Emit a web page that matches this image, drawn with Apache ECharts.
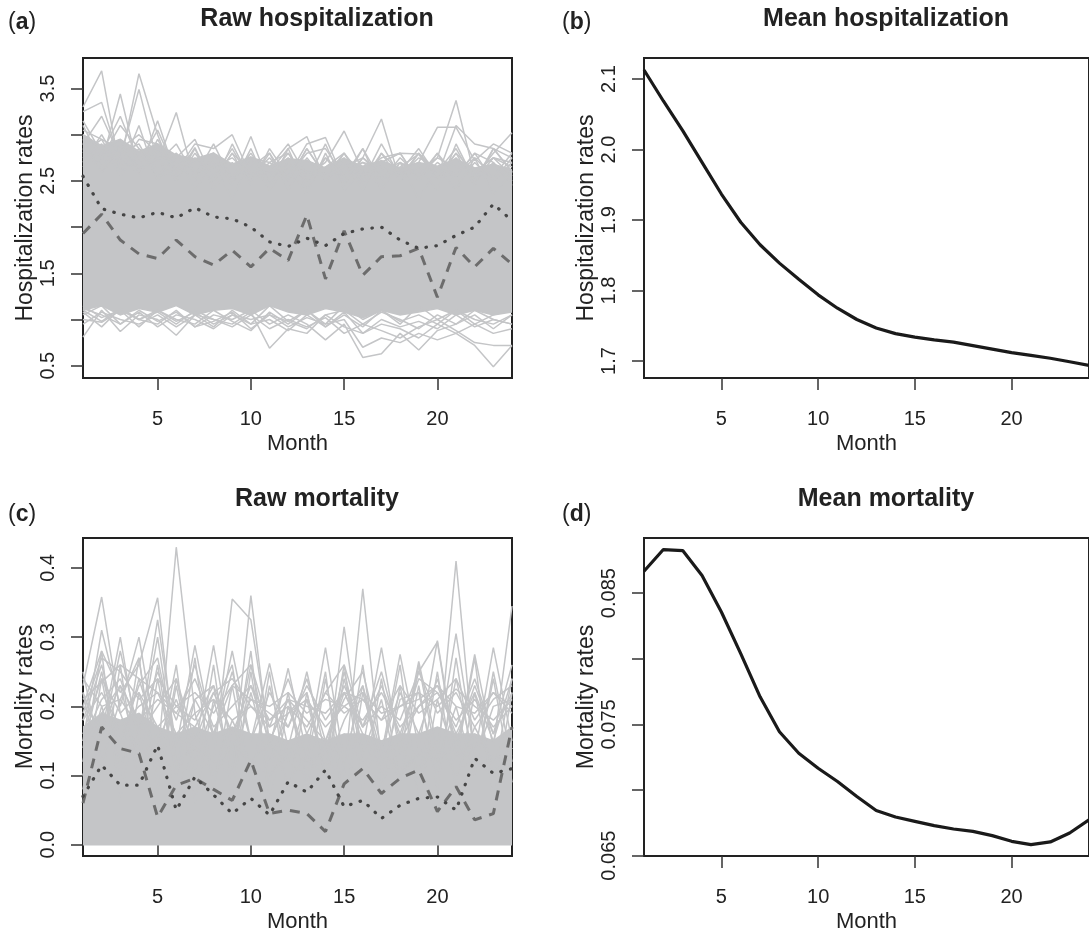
<!DOCTYPE html>
<html>
<head>
<meta charset="utf-8">
<script src="https://cdn.jsdelivr.net/npm/echarts@6/dist/echarts.min.js"></script>
<style>
html, body { margin: 0; padding: 0; background: #fff; }
#chart { width: 1089px; height: 934px; }
</style>
</head>
<body>
<div id="chart"></div>
<script>
// months on the x axis
const months = [1, 2, 3, 4, 5, 6, 7, 8, 9, 10, 11, 12, 13, 14, 15, 16, 17, 18, 19, 20, 21, 22, 23, 24];
const monthTicks = [5, 10, 15, 20];

// (a) raw hospitalization: dense core of the grey lines
const hospLow = [1.10, 1.15, 1.05, 1.12, 1.08, 1.15, 1.05, 1.10, 1.12, 1.05, 1.15, 1.08, 1.05, 1.12, 1.08, 1.02, 1.10, 1.05, 1.08, 1.12, 1.05, 1.10, 1.05, 1.08];
const hospHigh = [3.00, 2.88, 2.95, 2.82, 2.90, 2.78, 2.74, 2.80, 2.68, 2.76, 2.66, 2.74, 2.72, 2.64, 2.74, 2.66, 2.72, 2.64, 2.70, 2.66, 2.74, 2.64, 2.68, 2.62];
// (a) single grey lines sticking out above the core
const hospUpper = [
  [3.30, 3.69, 2.60, 3.10, 2.50, 2.80, 2.40, 2.70, 2.30, 2.75, 2.40, 2.65, 2.35, 2.80, 2.40, 2.60, 2.45, 2.70, 2.30, 2.65, 2.40, 2.75, 2.35, 2.60],
  [3.25, 3.35, 2.70, 3.66, 3.00, 2.50, 2.85, 2.40, 2.70, 2.50, 2.80, 2.40, 2.75, 2.50, 2.70, 2.40, 2.80, 2.50, 2.65, 2.40, 2.90, 2.50, 2.70, 2.45],
  [3.10, 2.70, 3.44, 2.60, 3.15, 2.55, 2.86, 2.45, 2.90, 2.50, 2.60, 2.85, 2.40, 2.75, 2.50, 2.85, 2.40, 2.70, 2.55, 2.80, 2.45, 2.70, 2.50, 2.75],
  [2.90, 3.20, 2.75, 3.49, 2.70, 3.24, 2.50, 2.78, 2.45, 2.85, 2.40, 2.70, 2.50, 2.90, 2.45, 2.75, 2.55, 2.65, 2.79, 2.50, 2.80, 2.45, 2.85, 2.60],
  [3.15, 2.80, 3.20, 2.70, 3.05, 2.60, 2.90, 2.85, 3.00, 2.55, 2.75, 2.50, 2.85, 2.55, 2.80, 2.50, 2.90, 2.55, 2.80, 2.60, 2.85, 2.50, 2.75, 2.65],
  [3.00, 2.75, 3.10, 2.85, 2.70, 2.90, 2.55, 2.90, 2.50, 2.98, 2.45, 2.85, 2.98, 2.50, 2.80, 2.45, 2.70, 2.80, 2.50, 2.70, 2.55, 2.80, 2.50, 2.70],
  [2.70, 3.00, 2.65, 2.95, 2.90, 2.55, 2.75, 2.50, 2.80, 2.45, 2.85, 2.55, 2.90, 2.97, 2.50, 2.75, 3.17, 2.50, 2.80, 2.55, 2.75, 2.50, 2.85, 2.60],
  [2.95, 2.65, 2.90, 2.60, 2.85, 2.70, 2.50, 2.75, 2.55, 2.80, 2.50, 2.70, 2.55, 2.70, 3.04, 2.60, 2.75, 2.80, 2.79, 2.55, 2.80, 2.60, 2.75, 2.55],
  [2.80, 2.95, 2.60, 2.85, 2.55, 2.80, 2.60, 2.70, 2.50, 2.75, 2.55, 2.80, 2.50, 2.65, 2.75, 2.50, 2.80, 2.60, 2.70, 3.08, 3.08, 2.72, 2.90, 2.80],
  [2.65, 2.85, 2.95, 2.60, 2.75, 2.50, 2.80, 2.55, 2.85, 2.50, 2.70, 2.80, 2.50, 2.75, 2.55, 2.85, 2.50, 2.75, 2.55, 2.75, 3.37, 2.55, 2.80, 3.02],
  [2.90, 2.60, 2.85, 2.55, 2.95, 2.60, 2.70, 2.80, 2.55, 2.65, 2.80, 2.50, 2.85, 2.55, 2.60, 2.70, 2.55, 2.60, 2.85, 2.55, 3.10, 2.90, 2.85, 2.75],
  [2.75, 2.90, 2.55, 2.80, 2.65, 2.75, 2.95, 2.50, 2.80, 2.60, 2.65, 2.90, 2.55, 2.65, 2.80, 2.55, 2.70, 2.80, 2.50, 2.80, 2.55, 2.75, 2.55, 2.80],
  [2.85, 2.60, 2.80, 2.90, 2.55, 2.60, 2.70, 2.80, 2.50, 2.75, 2.70, 2.55, 2.80, 2.85, 2.55, 2.70, 2.65, 2.55, 2.75, 2.65, 2.55, 2.80, 2.70, 2.50],
  [3.05, 2.95, 2.85, 3.00, 2.80, 2.65, 2.55, 2.65, 2.75, 2.55, 2.60, 2.75, 2.60, 2.55, 2.65, 2.75, 2.60, 2.70, 2.60, 2.75, 2.65, 2.60, 2.75, 2.70]
];
// (a) single grey lines dipping below the core
const hospLower = [
  [0.81, 1.10, 0.87, 1.05, 1.00, 0.83, 1.05, 0.92, 1.10, 0.95, 1.15, 0.98, 1.10, 0.95, 1.15, 1.00, 1.10, 0.95, 1.15, 1.00, 1.10, 0.95, 1.05, 1.10],
  [1.00, 0.97, 1.10, 0.92, 1.10, 1.00, 0.95, 1.10, 0.98, 0.88, 1.08, 0.95, 1.10, 0.92, 1.05, 0.92, 1.10, 0.98, 1.05, 0.95, 1.10, 1.00, 0.95, 1.05],
  [1.10, 0.98, 1.12, 1.00, 1.08, 0.95, 1.10, 1.00, 0.95, 1.08, 0.69, 0.90, 0.85, 1.05, 1.10, 0.95, 1.08, 1.00, 0.90, 1.05, 0.95, 1.10, 1.00, 0.95],
  [1.05, 1.15, 0.95, 1.10, 0.98, 1.08, 0.92, 1.05, 1.00, 1.10, 0.95, 1.05, 0.95, 0.78, 0.95, 0.59, 0.63, 0.85, 0.67, 0.88, 0.95, 1.05, 0.90, 1.05],
  [1.15, 1.02, 1.10, 1.00, 1.10, 0.98, 1.08, 0.95, 1.05, 1.00, 1.05, 0.92, 1.02, 0.95, 1.00, 0.70, 0.80, 0.75, 0.85, 0.78, 0.85, 0.72, 0.49, 0.72],
  [0.95, 1.08, 1.00, 0.95, 1.05, 0.92, 1.05, 1.00, 0.92, 1.05, 0.90, 1.00, 0.92, 1.02, 0.85, 0.95, 0.88, 0.80, 0.92, 1.00, 0.88, 0.75, 0.72, 0.72],
  [1.08, 0.92, 1.12, 1.00, 0.95, 1.10, 0.92, 0.98, 1.08, 0.90, 1.05, 0.98, 0.90, 1.05, 0.92, 0.85, 0.95, 0.90, 0.80, 0.95, 0.85, 0.95, 0.85, 0.90],
  [1.12, 1.05, 0.95, 1.08, 0.92, 1.05, 1.00, 0.90, 1.05, 0.95, 1.00, 0.88, 1.05, 0.92, 1.08, 0.85, 1.00, 0.92, 0.98, 0.90, 1.05, 0.92, 1.00, 0.95]
];
const hospDotted = [2.55, 2.20, 2.14, 2.10, 2.16, 2.10, 2.21, 2.11, 2.09, 2.00, 1.84, 1.79, 1.88, 1.80, 1.93, 1.98, 2.00, 1.86, 1.77, 1.80, 1.91, 2.00, 2.25, 2.07];
const hospDashed = [1.93, 2.14, 1.86, 1.71, 1.66, 1.86, 1.68, 1.59, 1.75, 1.57, 1.77, 1.64, 2.13, 1.44, 1.96, 1.48, 1.68, 1.69, 1.77, 1.24, 1.78, 1.57, 1.77, 1.60];

// (b) mean hospitalization
const hospMean = [2.113, 2.069, 2.027, 1.982, 1.937, 1.897, 1.865, 1.839, 1.816, 1.794, 1.775, 1.759, 1.747, 1.739, 1.734, 1.730, 1.727, 1.722, 1.717, 1.712, 1.708, 1.704, 1.699, 1.694];

// (c) raw mortality
const mortLow = [0, 0, 0, 0, 0, 0, 0, 0, 0, 0, 0, 0, 0, 0, 0, 0, 0, 0, 0, 0, 0, 0, 0, 0];
const mortHigh = [0.17, 0.19, 0.18, 0.19, 0.17, 0.16, 0.17, 0.16, 0.17, 0.16, 0.16, 0.15, 0.16, 0.15, 0.16, 0.16, 0.15, 0.16, 0.16, 0.17, 0.16, 0.16, 0.15, 0.17];
const mortUpper = [
  [0.23, 0.358, 0.19, 0.12, 0.16, 0.08, 0.14, 0.10, 0.18, 0.12, 0.15, 0.09, 0.13, 0.10, 0.16, 0.12, 0.09, 0.14, 0.11, 0.15, 0.10, 0.17, 0.12, 0.14],
  [0.15, 0.31, 0.20, 0.30, 0.14, 0.10, 0.16, 0.12, 0.10, 0.36, 0.14, 0.12, 0.10, 0.15, 0.12, 0.10, 0.14, 0.11, 0.13, 0.15, 0.10, 0.13, 0.12, 0.14],
  [0.20, 0.28, 0.22, 0.26, 0.357, 0.12, 0.14, 0.10, 0.15, 0.12, 0.10, 0.14, 0.12, 0.10, 0.315, 0.12, 0.14, 0.10, 0.13, 0.12, 0.15, 0.11, 0.13, 0.12],
  [0.12, 0.16, 0.30, 0.14, 0.12, 0.43, 0.19, 0.10, 0.14, 0.12, 0.10, 0.13, 0.11, 0.12, 0.10, 0.37, 0.12, 0.10, 0.14, 0.12, 0.41, 0.12, 0.10, 0.14],
  [0.22, 0.15, 0.28, 0.16, 0.325, 0.14, 0.288, 0.15, 0.28, 0.15, 0.262, 0.14, 0.25, 0.13, 0.25, 0.14, 0.285, 0.13, 0.265, 0.14, 0.305, 0.13, 0.285, 0.15],
  [0.14, 0.25, 0.13, 0.24, 0.15, 0.21, 0.14, 0.288, 0.13, 0.26, 0.14, 0.255, 0.13, 0.285, 0.12, 0.23, 0.13, 0.275, 0.14, 0.295, 0.13, 0.275, 0.14, 0.345],
  [0.10, 0.20, 0.12, 0.15, 0.30, 0.12, 0.14, 0.12, 0.355, 0.325, 0.15, 0.21, 0.12, 0.14, 0.22, 0.16, 0.12, 0.15, 0.25, 0.293, 0.12, 0.16, 0.12, 0.13],
  [0.18, 0.22, 0.17, 0.20, 0.22, 0.16, 0.19, 0.21, 0.18, 0.20, 0.17, 0.19, 0.21, 0.17, 0.20, 0.18, 0.22, 0.17, 0.20, 0.22, 0.18, 0.21, 0.17, 0.20],
  [0.20, 0.17, 0.23, 0.18, 0.21, 0.19, 0.24, 0.17, 0.20, 0.23, 0.18, 0.20, 0.17, 0.22, 0.19, 0.21, 0.18, 0.23, 0.19, 0.21, 0.24, 0.18, 0.22, 0.19],
  [0.16, 0.24, 0.19, 0.22, 0.17, 0.20, 0.18, 0.23, 0.16, 0.21, 0.19, 0.17, 0.23, 0.18, 0.22, 0.17, 0.20, 0.18, 0.25, 0.19, 0.22, 0.17, 0.21, 0.23],
  [0.19, 0.27, 0.25, 0.21, 0.24, 0.20, 0.22, 0.19, 0.23, 0.21, 0.20, 0.22, 0.19, 0.21, 0.20, 0.22, 0.19, 0.20, 0.21, 0.23, 0.20, 0.19, 0.22, 0.20],
  [0.21, 0.235, 0.26, 0.24, 0.22, 0.19, 0.17, 0.22, 0.24, 0.20, 0.18, 0.21, 0.20, 0.19, 0.22, 0.21, 0.18, 0.20, 0.22, 0.20, 0.225, 0.20, 0.18, 0.21],
  [0.24, 0.20, 0.21, 0.17, 0.25, 0.18, 0.26, 0.16, 0.23, 0.26, 0.17, 0.24, 0.16, 0.22, 0.26, 0.17, 0.23, 0.16, 0.24, 0.22, 0.17, 0.24, 0.16, 0.22],
  [0.08, 0.24, 0.10, 0.27, 0.08, 0.23, 0.10, 0.26, 0.07, 0.25, 0.09, 0.22, 0.08, 0.24, 0.10, 0.26, 0.08, 0.23, 0.09, 0.25, 0.08, 0.22, 0.10, 0.24],
  [0.22, 0.09, 0.26, 0.08, 0.24, 0.10, 0.27, 0.08, 0.23, 0.09, 0.25, 0.07, 0.22, 0.10, 0.26, 0.08, 0.24, 0.09, 0.23, 0.08, 0.27, 0.10, 0.24, 0.09],
  [0.12, 0.28, 0.06, 0.22, 0.12, 0.26, 0.06, 0.21, 0.11, 0.28, 0.06, 0.20, 0.12, 0.25, 0.05, 0.22, 0.12, 0.26, 0.06, 0.21, 0.12, 0.27, 0.06, 0.22],
  [0.25, 0.12, 0.21, 0.27, 0.09, 0.24, 0.12, 0.20, 0.26, 0.09, 0.23, 0.12, 0.21, 0.10, 0.24, 0.13, 0.21, 0.09, 0.26, 0.12, 0.20, 0.10, 0.25, 0.12],
  [0.18, 0.26, 0.15, 0.23, 0.27, 0.14, 0.21, 0.16, 0.25, 0.15, 0.22, 0.17, 0.24, 0.15, 0.21, 0.25, 0.14, 0.22, 0.16, 0.24, 0.15, 0.23, 0.16, 0.26],
  [0.15, 0.21, 0.24, 0.16, 0.20, 0.24, 0.15, 0.22, 0.16, 0.23, 0.15, 0.21, 0.18, 0.15, 0.23, 0.17, 0.25, 0.15, 0.20, 0.23, 0.16, 0.22, 0.15, 0.24],
  [0.10, 0.19, 0.23, 0.12, 0.26, 0.10, 0.21, 0.23, 0.10, 0.22, 0.12, 0.19, 0.22, 0.11, 0.18, 0.23, 0.10, 0.21, 0.22, 0.10, 0.24, 0.12, 0.20, 0.21]
];
const mortDotted = [0.070, 0.115, 0.086, 0.086, 0.144, 0.050, 0.098, 0.072, 0.045, 0.067, 0.043, 0.091, 0.076, 0.108, 0.055, 0.064, 0.038, 0.057, 0.067, 0.069, 0.050, 0.125, 0.103, 0.110];
const mortDashed = [0.060, 0.170, 0.139, 0.132, 0.040, 0.086, 0.096, 0.080, 0.064, 0.122, 0.045, 0.050, 0.045, 0.019, 0.088, 0.110, 0.074, 0.096, 0.108, 0.048, 0.084, 0.036, 0.045, 0.170];

// (d) mean mortality
const mortMean = [0.08667, 0.08832, 0.08824, 0.08634, 0.08356, 0.08039, 0.0771, 0.07444, 0.0728, 0.07166, 0.07065, 0.0695, 0.06844, 0.06794, 0.06761, 0.06728, 0.06703, 0.06685, 0.06652, 0.06609, 0.06584, 0.06604, 0.06672, 0.06773];

// y tick positions and labels
const hospTicks = [0.5, 1.0, 1.5, 2.0, 2.5, 3.0, 3.5];
const hospLabels = [0.5, 1.5, 2.5, 3.5];
const hospMeanTicks = [1.7, 1.8, 1.9, 2.0, 2.1];
const mortTicks = [0.0, 0.1, 0.2, 0.3, 0.4];
const mortMeanTicks = [0.065, 0.070, 0.075, 0.080, 0.085];
const mortMeanLabels = [0.065, 0.075, 0.085];

const FONT = "'Liberation Sans', Arial, Helvetica, sans-serif";
const GREY = '#c4c5c7';
const INK = '#222';

function pairs(arr) {
  return arr.map((v, i) => [months[i], v]);
}

function plain(idx, arr, style) {
  return {
    type: 'line', xAxisIndex: idx, yAxisIndex: idx, data: pairs(arr),
    symbol: 'none', silent: true, lineStyle: style
  };
}

// solid grey core between low and high, drawn as one polygon
function band(idx, low, high) {
  return {
    type: 'custom', xAxisIndex: idx, yAxisIndex: idx, silent: true, clip: true,
    data: months.map((m, i) => [m, low[i], high[i]]),
    encode: { x: 0, y: [1, 2] },
    renderItem: function (params, api) {
      if (params.dataIndex !== 0) return null;
      const top = months.map((m, i) => api.coord([m, high[i]]));
      const bottom = months.map((m, i) => api.coord([m, low[i]])).reverse();
      return {
        type: 'polygon',
        shape: { points: top.concat(bottom) },
        style: { fill: GREY, stroke: GREY, lineWidth: 1.5 }
      };
    }
  };
}

function xAxisFor(idx) {
  return {
    gridIndex: idx, type: 'value', min: 1, max: 24,
    axisLine: { show: false }, splitLine: { show: false },
    axisTick: { customValues: monthTicks, length: 12, lineStyle: { color: '#333', width: 1.5 } },
    axisLabel: { customValues: monthTicks, fontSize: 20, color: INK, margin: 31, fontFamily: FONT },
    name: 'Month', nameLocation: 'middle', nameGap: 55,
    nameTextStyle: { fontSize: 22, color: INK, fontFamily: FONT }
  };
}

function yAxisFor(idx, name, min, max, ticks, labels, digits) {
  return {
    gridIndex: idx, type: 'value', min: min, max: max,
    axisLine: { show: false }, splitLine: { show: false },
    axisTick: { customValues: ticks, length: 12, lineStyle: { color: '#333', width: 1.5 } },
    axisLabel: {
      customValues: labels, rotate: 90, fontSize: 20, color: INK, margin: 25, fontFamily: FONT,
      formatter: v => Number(v).toFixed(digits)
    },
    name: name, nameLocation: 'middle', nameGap: 45,
    nameTextStyle: { fontSize: 23, color: INK, fontFamily: FONT }
  };
}

const dotted = { color: '#454545', width: 3.2, type: [0.5, 9.5], cap: 'round' };
const dashed = { color: '#6c6c6c', width: 3, type: [10, 8] };
const grey = { color: GREY, width: 1.5 };
const mean = { color: '#1a1a1a', width: 3.2 };

const series = [];
series.push(band(0, hospLow, hospHigh));
hospUpper.concat(hospLower).forEach(a => series.push(plain(0, a, grey)));
series.push(plain(0, hospDashed, dashed));
series.push(plain(0, hospDotted, dotted));
series.push(plain(1, hospMean, mean));
series.push(band(2, mortLow, mortHigh));
mortUpper.forEach(a => series.push(plain(2, a, grey)));
series.push(plain(2, mortDashed, dashed));
series.push(plain(2, mortDotted, dotted));
series.push(plain(3, mortMean, mean));

const box = { show: true, borderColor: INK, borderWidth: 2, backgroundColor: 'transparent' };

function heading(text, x, y) {
  return {
    type: 'text', x: x, y: y,
    style: { text: text, fill: INK, font: 'bold 25px ' + FONT, align: 'center', verticalAlign: 'middle' }
  };
}
function tag(letter, x, y) {
  return {
    type: 'text', x: x, y: y,
    style: {
      text: '({b|' + letter + '})', fill: INK, fontSize: 23, fontFamily: FONT, verticalAlign: 'middle',
      rich: { b: { fontSize: 23, fontWeight: 'bold', fontFamily: FONT, fill: INK } }
    }
  };
}

const option = {
  backgroundColor: '#fff',
  animation: false,
  grid: [
    Object.assign({ left: 83, top: 58, width: 429, height: 320 }, box),
    Object.assign({ left: 644, top: 58, width: 449, height: 320 }, box),
    Object.assign({ left: 83, top: 538, width: 429, height: 318 }, box),
    Object.assign({ left: 644, top: 538, width: 449, height: 318 }, box)
  ],
  xAxis: [xAxisFor(0), xAxisFor(1), xAxisFor(2), xAxisFor(3)],
  yAxis: [
    yAxisFor(0, 'Hospitalization rates', 0.367, 3.83, hospTicks, hospLabels, 1),
    yAxisFor(1, 'Hospitalization rates', 1.676, 2.13, hospMeanTicks, hospMeanTicks, 1),
    yAxisFor(2, 'Mortality rates', -0.0163, 0.4433, mortTicks, mortTicks, 1),
    yAxisFor(3, 'Mortality rates', 0.06497, 0.0892, mortMeanTicks, mortMeanLabels, 3)
  ],
  graphic: [
    heading('Raw hospitalization', 317, 19),
    heading('Mean hospitalization', 886, 19),
    heading('Raw mortality', 317, 499),
    heading('Mean mortality', 886, 499),
    tag('a', 8, 23),
    tag('b', 562, 23),
    tag('c', 8, 515),
    tag('d', 562, 515)
  ],
  series: series
};

const myChart = echarts.init(document.getElementById('chart'));
myChart.setOption(option);
</script>
</body>
</html>
